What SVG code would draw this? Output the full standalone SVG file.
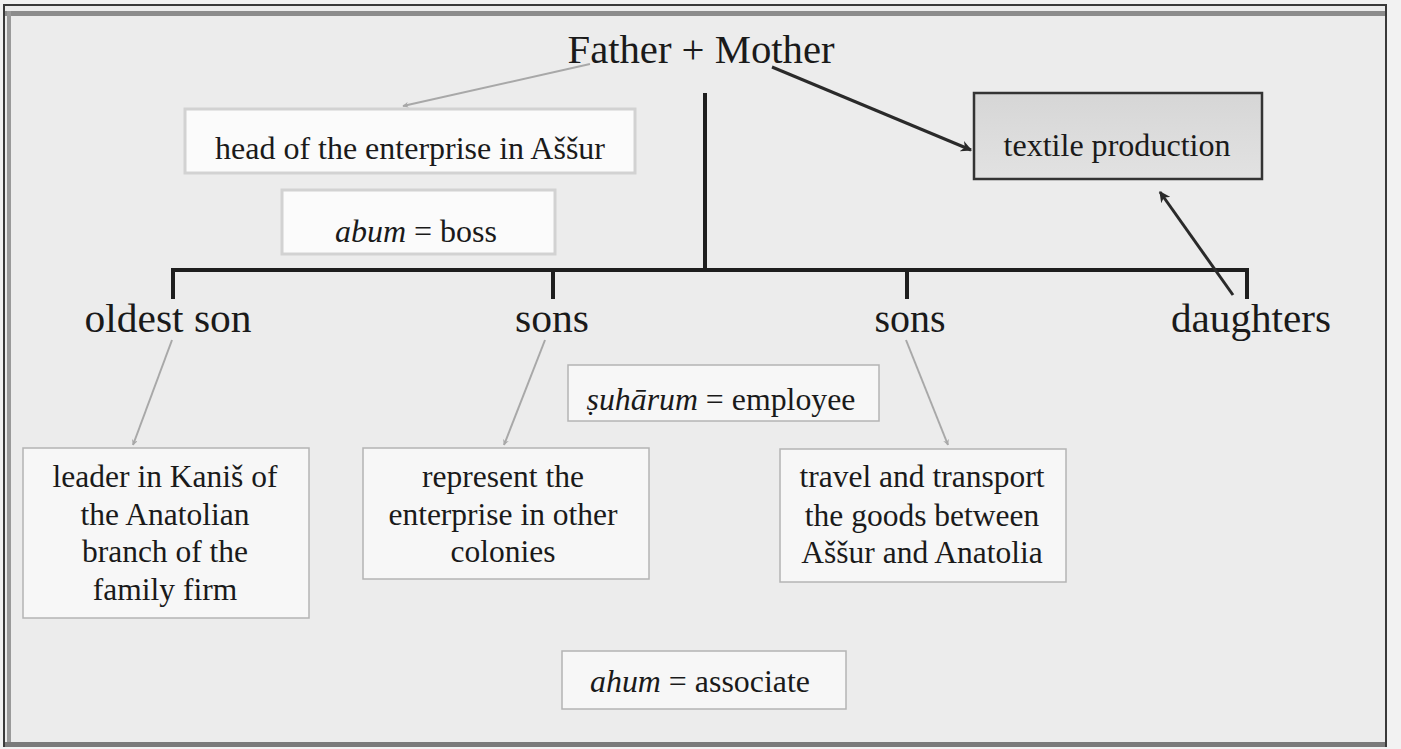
<svg xmlns="http://www.w3.org/2000/svg" width="1401" height="749" viewBox="0 0 1401 749">
<style>
text{font-family:"Liberation Serif","Times New Roman",serif;fill:#1a1a1a;text-anchor:middle}
.big{font-size:40px}
.mid{font-size:32px}
.box{font-size:31.5px}
.it{font-style:italic}
.wbox{fill:#f7f7f7;stroke:#b4b4b4;stroke-width:1.5}
.lbox{fill:#fbfbfb;stroke:#d2d2d2;stroke-width:3}
.tree{stroke:#1e1e1e;stroke-width:4;fill:none;stroke-linecap:square}
.garr{stroke:#a8a8a8;stroke-width:2;fill:none;marker-end:url(#ga)}
.barr{stroke:#2a2a2a;stroke-width:3;fill:none;marker-end:url(#ba)}
</style>
<defs>
<marker id="ga" viewBox="0 0 10 10" refX="9" refY="5" markerWidth="6" markerHeight="6" orient="auto" markerUnits="userSpaceOnUse">
<path d="M0,0 L10,5 L0,10 L3,5 z" fill="#a8a8a8"/>
</marker>
<marker id="ba" viewBox="0 0 10 10" refX="9" refY="5" markerWidth="11" markerHeight="11" orient="auto" markerUnits="userSpaceOnUse">
<path d="M0,0 L10,5 L0,10 L3,5 z" fill="#2a2a2a"/>
</marker>
<linearGradient id="tg" x1="0" y1="0" x2="0" y2="1">
<stop offset="0" stop-color="#d6d6d6"/>
<stop offset="1" stop-color="#e2e2e2"/>
</linearGradient>
</defs>

<g id="frame">
<rect x="0" y="0" width="1401" height="749" fill="#f2f2f2"/>
<rect x="4" y="5" width="1382" height="741" fill="#ececec" stroke="#3a3a3a" stroke-width="2"/>
<rect x="5" y="11" width="1380" height="5" fill="#8c8c8c"/>
<rect x="7" y="11" width="4" height="734" fill="#9a9a9a"/>
<rect x="5" y="742" width="1380" height="5" fill="#7a7a7a"/>
</g>

<g id="connectors">
<polyline class="tree" points="705,95 705,270"/>
<polyline class="tree" points="173,297 173,270 1247,270 1247,297"/>
<line class="tree" x1="553" y1="270" x2="553" y2="297"/>
<line class="tree" x1="907" y1="270" x2="907" y2="297"/>
<line class="garr" x1="590" y1="64" x2="403" y2="106"/>
<line class="barr" x1="772" y1="67" x2="971" y2="150"/>
<line class="barr" x1="1233" y1="295" x2="1160" y2="192"/>
<line class="garr" x1="172" y1="340" x2="133" y2="445"/>
<line class="garr" x1="545" y1="340" x2="504" y2="445"/>
<line class="garr" x1="906" y1="340" x2="948" y2="445"/>
</g>

<g id="parents">
<text class="big" x="701" y="63" textLength="267" lengthAdjust="spacingAndGlyphs">Father + Mother</text>
</g>

<g id="head">
<rect class="lbox" x="185" y="109" width="450" height="64"/>
<text class="mid" x="410" y="159" textLength="390" lengthAdjust="spacingAndGlyphs">head of the enterprise in Aššur</text>
</g>

<g id="abum">
<rect class="lbox" x="282" y="190" width="273" height="64"/>
<text class="mid" x="416" y="242" textLength="162" lengthAdjust="spacingAndGlyphs"><tspan class="it">abum</tspan> = boss</text>
</g>

<g id="textile">
<rect x="974" y="93" width="288" height="86" fill="url(#tg)" stroke="#333" stroke-width="2.5"/>
<text class="mid" x="1117" y="156" textLength="227" lengthAdjust="spacingAndGlyphs">textile production</text>
</g>

<g id="oldest">
<text class="big" x="168" y="332" textLength="167" lengthAdjust="spacingAndGlyphs">oldest son</text>
</g>
<g id="sons1">
<text class="big" x="552" y="332" textLength="74" lengthAdjust="spacingAndGlyphs">sons</text>
</g>
<g id="sons2">
<text class="big" x="910" y="332" textLength="71" lengthAdjust="spacingAndGlyphs">sons</text>
</g>
<g id="daughters">
<text class="big" x="1251" y="332" textLength="160" lengthAdjust="spacingAndGlyphs">daughters</text>
</g>

<g id="suharum">
<rect class="wbox" x="568" y="365" width="311" height="56"/>
<text class="mid" x="721" y="410" textLength="269" lengthAdjust="spacingAndGlyphs"><tspan class="it">ṣuhārum</tspan> = employee</text>
</g>

<g id="leader">
<rect class="wbox" x="23" y="448" width="286" height="170"/>
<text class="box" x="165" y="487">leader in Kaniš of</text>
<text class="box" x="165" y="525">the Anatolian</text>
<text class="box" x="165" y="562">branch of the</text>
<text class="box" x="165" y="600">family firm</text>
</g>

<g id="represent">
<rect class="wbox" x="363" y="448" width="286" height="131"/>
<text class="box" x="503" y="487">represent the</text>
<text class="box" x="503" y="525">enterprise in other</text>
<text class="box" x="503" y="562">colonies</text>
</g>

<g id="travel">
<rect class="wbox" x="780" y="449" width="286" height="133"/>
<text class="box" x="922" y="487">travel and transport</text>
<text class="box" x="922" y="526">the goods between</text>
<text class="box" x="922" y="563">Aššur and Anatolia</text>
</g>

<g id="ahum">
<rect class="wbox" x="562" y="651" width="284" height="58"/>
<text class="mid" x="700" y="692" textLength="220" lengthAdjust="spacingAndGlyphs"><tspan class="it">ahum</tspan> = associate</text>
</g>
</svg>
